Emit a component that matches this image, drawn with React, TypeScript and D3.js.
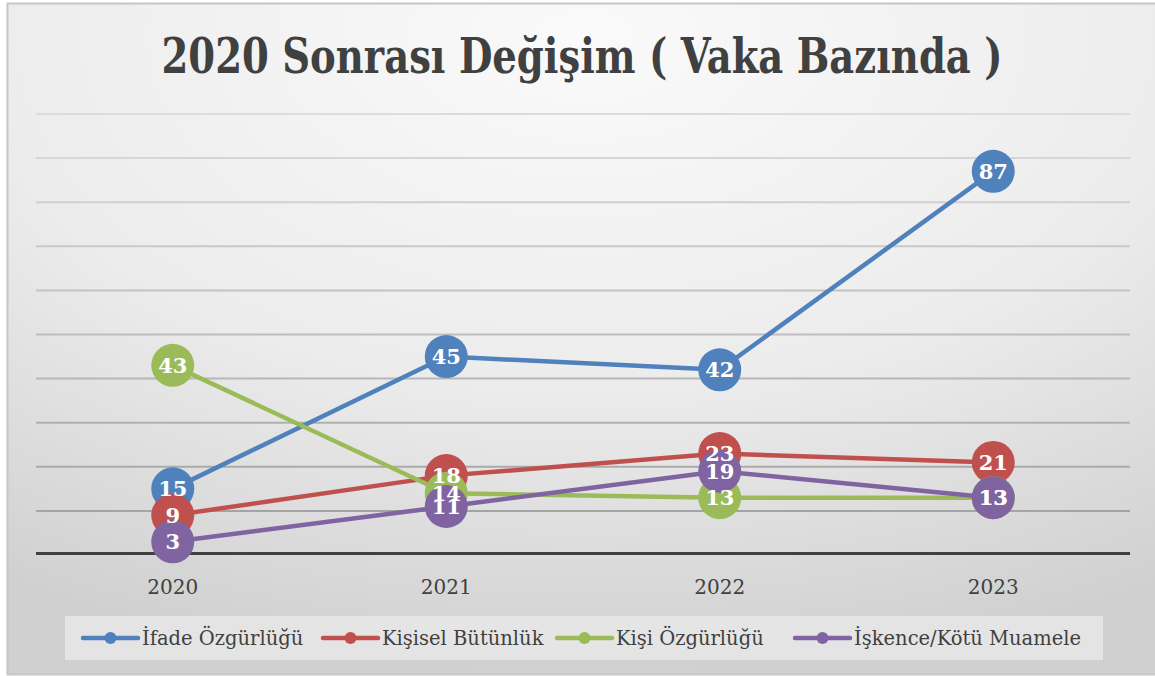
import React, { useRef, useEffect } from "react"
import * as d3 from "d3"

const chart_width = 1155
const chart_height = 676

// categories and series
const years = ["2020", "2021", "2022", "2023"]
const ifade = [15, 45, 42, 87]
const kisisel = [9, 18, 23, 21]
const kisi = [43, 14, 13, 13]
const iskence = [3, 11, 19, 13]
const series_names = ["İfade Özgürlüğü", "Kişisel Bütünlük", "Kişi Özgürlüğü", "İşkence/Kötü Muamele"]
const y_ticks = [10, 20, 30, 40, 50, 60, 70, 80, 90, 100]
const title = "2020 Sonrası Değişim ( Vaka Bazında )"

const colors = ["#4f81bd", "#c0504d", "#9bbb59", "#8064a2"]
const serif = "DejaVu Serif, Liberation Serif, serif"

const App = () => {
  const d3Container = useRef<SVGSVGElement | null>(null)

  useEffect(() => {
    if (!d3Container.current) return
    const svg = d3.select(d3Container.current)
    svg.selectAll("*").remove()

    const defs = svg.append("defs")
    const grad = defs
      .append("radialGradient")
      .attr("id", "bg")
      .attr("cx", 0.5)
      .attr("cy", 0.05)
      .attr("r", 0.95)
    grad.append("stop").attr("offset", "0%").attr("stop-color", "#fafafa")
    grad.append("stop").attr("offset", "55%").attr("stop-color", "#ececec")
    grad.append("stop").attr("offset", "100%").attr("stop-color", "#d0d0d0")

    // chart area
    svg
      .append("rect")
      .attr("x", 7.5)
      .attr("y", 3.5)
      .attr("width", chart_width)
      .attr("height", 671)
      .attr("fill", "url(#bg)")
      .attr("stroke", "#c6c6c6")
      .attr("stroke-width", 2)

    svg
      .append("text")
      .attr("x", 582)
      .attr("y", 73)
      .attr("text-anchor", "middle")
      .attr("font-family", "DejaVu Serif Condensed, DejaVu Serif, serif")
      .attr("font-weight", "bold")
      .attr("font-size", 48)
      .attr("fill", "#404040")
      .attr("textLength", 841)
      .attr("lengthAdjust", "spacingAndGlyphs")
      .text(title)

    const x_scale = d3.scaleBand().domain(years).range([36, 1130])
    const y_scale = d3.scaleLinear().domain([0, 100]).range([555, 114])
    const cx = (d: string) => (x_scale(d) as number) + x_scale.bandwidth() / 2

    const gridColor = d3.scaleLinear<string>().domain([100, 10]).range(["#dcdcdc", "#a4a4a4"])
    svg
      .append("g")
      .selectAll("line")
      .data(y_ticks)
      .enter()
      .append("line")
      .attr("x1", 36)
      .attr("x2", 1130)
      .attr("y1", d => y_scale(d))
      .attr("y2", d => y_scale(d))
      .attr("stroke", d => gridColor(d))
      .attr("stroke-width", 2)

    // x axis line
    svg
      .append("line")
      .attr("x1", 36)
      .attr("x2", 1130)
      .attr("y1", y_scale(0) - 1.5)
      .attr("y2", y_scale(0) - 1.5)
      .attr("stroke", "#404040")
      .attr("stroke-width", 3)

    svg
      .append("g")
      .selectAll("text")
      .data(years)
      .enter()
      .append("text")
      .attr("x", d => cx(d))
      .attr("y", 594)
      .attr("text-anchor", "middle")
      .attr("font-family", serif)
      .attr("font-size", 20)
      .attr("fill", "#404040")
      .text(d => d)

    const all = [ifade, kisisel, kisi, iskence]
    const line = d3
      .line<number>()
      .x((_, i) => cx(years[i]))
      .y(d => y_scale(d))

    all.forEach((vals, s) => {
      const g = svg.append("g")
      g.append("path")
        .attr("d", line(vals))
        .attr("fill", "none")
        .attr("stroke", colors[s])
        .attr("stroke-width", 4.5)
        .attr("stroke-linejoin", "round")
      g.selectAll("circle")
        .data(vals)
        .enter()
        .append("circle")
        .attr("cx", (_, i) => cx(years[i]))
        .attr("cy", d => y_scale(d))
        .attr("r", 21.5)
        .attr("fill", colors[s])
    })

    // data labels on top of all markers
    all.forEach(vals => {
      svg
        .append("g")
        .selectAll("text")
        .data(vals)
        .enter()
        .append("text")
        .attr("x", (_, i) => cx(years[i]))
        .attr("y", d => y_scale(d) + 7.5)
        .attr("text-anchor", "middle")
        .attr("font-family", serif)
        .attr("font-weight", "bold")
        .attr("font-size", 21)
        .attr("fill", "#ffffff")
        .text(d => d)
    })

    // legend
    const legend = svg.append("g")
    legend
      .append("rect")
      .attr("x", 65)
      .attr("y", 616)
      .attr("width", 1038)
      .attr("height", 44)
      .attr("fill", "#e8e8e8")
      .attr("opacity", 0.85)
    const legend_x = [83, 323, 557, 795]
    series_names.forEach((name, s) => {
      const item = legend.append("g").attr("transform", `translate(${legend_x[s]},638)`)
      item.append("line")
        .attr("x1", 0)
        .attr("x2", 55)
        .attr("stroke", colors[s])
        .attr("stroke-width", 4.5)
        .attr("stroke-linecap", "round")
      item.append("circle").attr("cx", 27.5).attr("r", 6).attr("fill", colors[s])
      item.append("text")
        .attr("x", 59)
        .attr("y", 7)
        .attr("font-family", serif)
        .attr("font-size", 19.5)
        .attr("fill", "#404040")
        .text(name)
    })
  }, [])

  return (
    <svg
      ref={d3Container}
      width={chart_width}
      height={chart_height}
      style={{ position: "absolute", left: 0, top: 0 }}
    />
  )
}

export default App
